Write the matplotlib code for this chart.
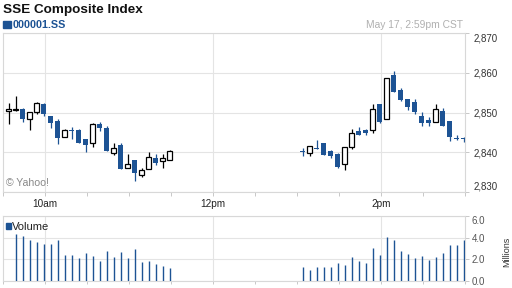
import numpy as np
import matplotlib.pyplot as plt
from matplotlib.patches import Rectangle

plt.rcParams['font.family'] = ['Liberation Sans', 'DejaVu Sans']

# 5-minute bars, morning and afternoon sessions
times = ['09:34', '09:39', '09:44', '09:49', '09:54', '09:59', '10:04', '10:09',
         '10:14', '10:19', '10:24', '10:29', '10:34', '10:39', '10:44', '10:49',
         '10:54', '10:59', '11:04', '11:09', '11:14', '11:19', '11:24', '11:29',
         '13:04', '13:09', '13:14', '13:19', '13:24', '13:29', '13:34', '13:39',
         '13:44', '13:49', '13:54', '13:59', '14:04', '14:09', '14:14', '14:19',
         '14:24', '14:29', '14:34', '14:39', '14:44', '14:49', '14:54', '14:59']

opens = [2850.4, 2850.6, 2851.0, 2848.4, 2850.2, 2852.2, 2849.2, 2847.9,
         2843.9, 2845.7, 2845.5, 2843.2, 2842.4, 2847.0, 2846.1, 2839.8,
         2841.7, 2836.0, 2837.9, 2834.2, 2835.8, 2838.6, 2837.7, 2838.0,
         2840.1, 2839.8, 2841.1, 2842.2, 2840.3, 2839.4, 2836.9, 2841.3,
         2845.3, 2845.5, 2845.5, 2852.2, 2848.4, 2859.4, 2855.8, 2853.4,
         2852.6, 2849.2, 2848.2, 2847.6, 2850.3, 2847.8, 2843.4, 2843.4]
highs = [2852.4, 2854.1, 2851.1, 2850.1, 2852.7, 2852.4, 2849.2, 2848.4,
         2845.9, 2846.4, 2845.9, 2843.3, 2847.4, 2847.5, 2846.5, 2842.4,
         2842.4, 2839.4, 2837.9, 2836.1, 2840.0, 2839.4, 2839.4, 2840.5,
         2841.1, 2841.5, 2843.0, 2842.2, 2840.5, 2839.8, 2841.3, 2845.9,
         2846.4, 2845.9, 2852.2, 2852.2, 2858.7, 2860.4, 2856.3, 2853.4,
         2853.4, 2850.1, 2848.9, 2852.1, 2851.1, 2847.8, 2844.4, 2843.9]
lows = [2847.1, 2850.5, 2847.7, 2845.5, 2849.6, 2849.2, 2846.0, 2842.1,
        2843.8, 2843.4, 2842.3, 2840.0, 2841.4, 2845.3, 2840.3, 2839.2,
        2835.7, 2836.0, 2832.6, 2833.7, 2835.8, 2836.8, 2836.1, 2838.0,
        2839.0, 2839.0, 2840.7, 2839.2, 2838.4, 2836.1, 2835.6, 2840.9,
        2844.2, 2844.2, 2844.9, 2847.4, 2848.4, 2855.3, 2852.8, 2850.6,
        2849.6, 2846.5, 2846.5, 2847.6, 2846.5, 2842.8, 2843.1, 2842.5]
closes = [2850.9, 2850.8, 2848.4, 2850.1, 2852.4, 2849.7, 2847.4, 2843.5,
          2845.7, 2845.4, 2842.4, 2841.7, 2847.0, 2846.1, 2840.3, 2841.0,
          2835.7, 2837.1, 2834.6, 2835.4, 2838.8, 2837.3, 2838.6, 2840.3,
          2839.9, 2841.5, 2840.7, 2839.2, 2839.0, 2836.2, 2841.3, 2844.9,
          2844.4, 2844.7, 2850.9, 2847.7, 2858.7, 2855.3, 2853.1, 2851.3,
          2850.1, 2847.4, 2847.4, 2850.9, 2846.5, 2843.9, 2843.3, 2843.3]
# millions of shares, first bar has no volume shown
volume = [np.nan, 4.33, 4.15, 3.78, 3.59, 3.41, 3.41, 3.78,
          2.38, 2.38, 2.10, 2.57, 2.29, 1.83, 2.76, 2.20,
          2.66, 2.10, 2.94, 1.73, 1.83, 1.55, 1.36, 1.18,
          1.27, 0.99, 1.27, 1.27, 1.27, 1.64, 1.46, 2.20,
          1.83, 1.64, 3.03, 2.38, 4.06, 3.78, 2.76, 2.48,
          2.10, 2.29, 1.92, 2.20, 2.57, 3.31, 3.31, 3.78]

price_ticks = [2830, 2840, 2850, 2860, 2870]
vol_ticks = [0, 2, 4, 6]
time_ticks = ['10:00', '12:00', '14:00']
time_labels = ['10am', '12pm', '2pm']

blue = '#1d5394'
grid = '#e4e4e4'
W, H = 512.0, 288.0


def tmin(t):
    return int(t[:2]) * 60 + int(t[3:]) - 570


x = np.array([tmin(t) for t in times])
major = [tmin(t) for t in time_ticks]
minor = np.arange(0, 331, 30)

fig = plt.figure(figsize=(5.12, 2.88), dpi=100)
ax1 = fig.add_axes([3 / W, 1 - 191.7 / H, 462 / W, 158.4 / H])
ax2 = fig.add_axes([3 / W, 1 - 281 / H, 462 / W, 65 / H])

for i in range(len(x)):
    o, h, l, c = opens[i], highs[i], lows[i], closes[i]
    up = c >= o
    col = 'black' if up else blue
    ax1.vlines(x[i], l, h, color=col, lw=0.9, zorder=2)
    hgt = max(abs(c - o), 0.3)
    ax1.bar(x[i], hgt, width=3.6, bottom=min(o, c),
            color='white' if up else blue, edgecolor=col,
            lw=0.9 if up else 0, zorder=3)

v = np.array(volume)
ok = ~np.isnan(v)
ax2.vlines(x[ok], 0, v[ok], color=blue, lw=1.0, zorder=3)

for ax in (ax1, ax2):
    ax.set_xlim(0, 330)
    ax.set_xticks(major)
    ax.set_xticks(minor, minor=True)
    ax.grid(True, which='major', color=grid, lw=0.8, zorder=0)
    ax.yaxis.tick_right()
    for s in ax.spines.values():
        s.set_color('#d8d8d8')
        s.set_linewidth(0.8)
    ax.tick_params(axis='both', which='both', colors='#c8c8c8', length=3, width=0.7)
    ax.set_axisbelow(True)

ax1.set_ylim(2830, 2870)
ax1.set_yticks(price_ticks)
ax1.set_yticklabels(['{:,}'.format(p) for p in price_ticks])
ax1.set_xticklabels(time_labels)
ax1.tick_params(axis='x', labelsize=7.2, labelcolor='#222222', pad=2)
ax1.tick_params(axis='y', labelsize=7, labelcolor='#333333', pad=3)
labs = ax1.get_yticklabels()
labs[0].set_va('bottom')
labs[-1].set_va('top')

ax2.set_ylim(0, 6)
ax2.set_yticks(vol_ticks)
ax2.set_yticklabels(['{:.1f}'.format(t) for t in vol_ticks])
ax2.set_xticklabels([])
ax2.tick_params(axis='x', which='both', length=2)
ax2.tick_params(axis='y', labelsize=7, labelcolor='#555555', pad=2)
ax2.get_yticklabels()[-1].set_va('top')


def px(xp, yp):
    return xp / W, 1 - yp / H


fig.text(*px(3, 12.7), 'SSE Composite Index', fontsize=9.7, fontweight='bold',
         color='#111111', va='baseline')
fig.patches.append(Rectangle(px(2.7, 28), 8 / W, 7.3 / H, transform=fig.transFigure,
                             color=blue, figure=fig))
fig.text(*px(13, 27.5), '000001.SS', fontsize=7.8, fontweight='bold', color=blue,
         va='baseline')
fig.text(*px(463, 28.3), 'May 17, 2:59pm CST', fontsize=7.4, color='#b0b0b0',
         ha='right', va='baseline')
fig.text(*px(6.5, 186.5), '\u00a9 Yahoo!', fontsize=7.6, color='#888888', va='baseline')
fig.patches.append(Rectangle(px(6, 228.5), 4.7 / W, 5.8 / H, transform=fig.transFigure,
                             color=blue, figure=fig))
fig.text(*px(11.7, 230), 'Volume', fontsize=8, color='#222222', va='baseline')
fig.text(*px(507, 252), 'Millions', fontsize=6.5, color='#333333', rotation=90,
         ha='center', va='center')

fig.savefig('out.png', dpi=100)
